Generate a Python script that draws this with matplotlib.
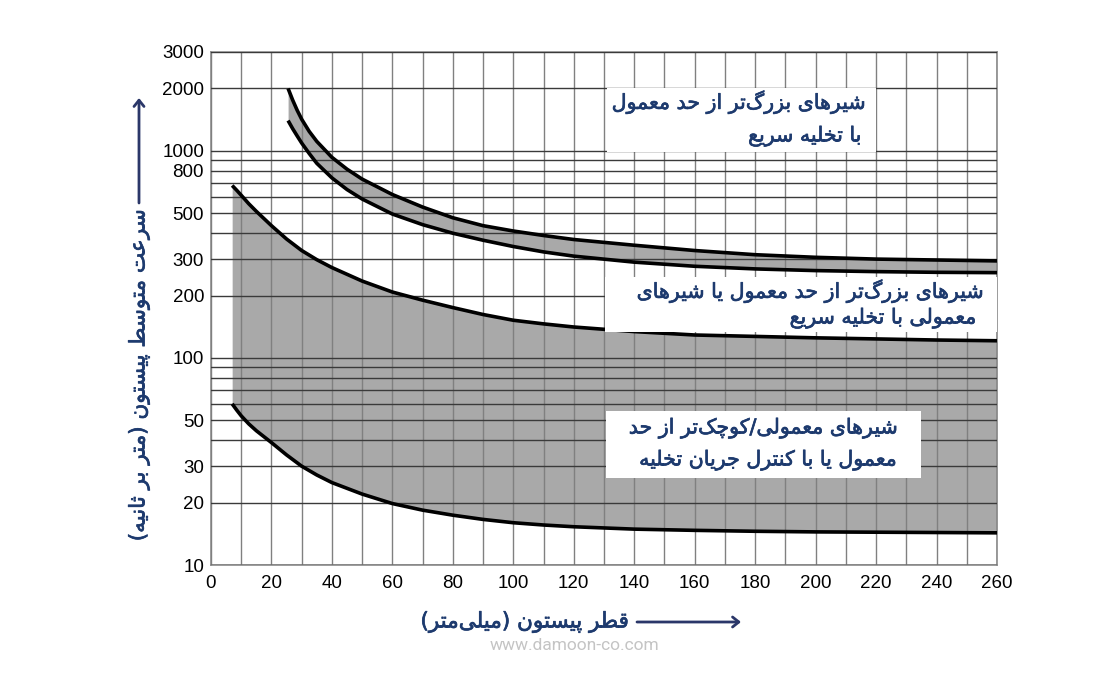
import matplotlib
matplotlib.use('Agg')
import matplotlib.pyplot as plt
import matplotlib.patheffects as pe
from matplotlib.patches import Rectangle, FancyArrowPatch
from matplotlib.ticker import FixedLocator, NullFormatter

# lower (wide) band: normal / smaller valves
x_small = [7, 8.5, 10, 12.5, 15, 20, 25, 30, 35, 40, 50, 60, 70, 80, 90, 100, 110, 120,
           140, 160, 180, 200, 220, 240, 260]
v_small_min = [60, 56, 52.5, 48, 44.5, 39, 34, 30, 27.2, 25, 22, 19.8, 18.4, 17.4, 16.6, 16.0,
               15.6, 15.3, 14.9, 14.7, 14.55, 14.45, 14.4, 14.35, 14.3]
v_small_max = [680, 645, 610, 555, 510, 435, 375, 330, 298, 273, 235, 208, 190, 175, 162, 152,
               146, 141, 134, 129, 127, 125, 123.5, 122, 121]

# upper (narrow) band: oversized valves with quick exhaust
x_large = [25.5, 27, 28.5, 30, 32.5, 35, 40, 45, 50, 60, 70, 80, 90, 100, 110, 120,
           140, 160, 180, 200, 220, 240, 260]
v_large_min = [1400, 1280, 1180, 1090, 970, 870, 740, 650, 585, 495, 440, 400, 370, 345, 325, 310,
               290, 277, 269, 264, 261, 259, 258]
v_large_max = [2000, 1760, 1570, 1420, 1240, 1110, 930, 815, 730, 615, 535, 475, 435, 410, 390, 373,
               350, 330, 315, 306, 300, 297, 294]

y_ticks = [10, 20, 30, 50, 100, 200, 300, 500, 800, 1000, 2000, 3000]
y_grid = [40, 60, 70, 80, 90, 400, 600, 700, 900]
x_ticks = list(range(0, 261, 20))

label_top = ['شیرهای بزرگ\u200cتر از حد معمول', 'با تخلیه سریع']
label_mid = ['شیرهای بزرگ\u200cتر از حد معمول یا شیرهای', 'معمولی با تخلیه سریع']
label_low = ['شیرهای معمولی/کوچک\u200cتر از حد', 'معمول یا با کنترل جریان تخلیه']
ylabel = 'سرعت متوسط پیستون (متر بر ثانیه)'
xlabel = 'قطر پیستون (میلی\u200cمتر)'
watermark = 'www.damoon-co.com'

# matplotlib has no arabic shaping, so pick presentation forms by hand
FORMS = {
    'ا': ('\uFE8D', '\uFE8E', None, None),
    'ب': ('\uFE8F', '\uFE90', '\uFE91', '\uFE92'),
    'پ': ('\uFB56', '\uFB57', '\uFB58', '\uFB59'),
    'ت': ('\uFE95', '\uFE96', '\uFE97', '\uFE98'),
    'ث': ('\uFE99', '\uFE9A', '\uFE9B', '\uFE9C'),
    'ج': ('\uFE9D', '\uFE9E', '\uFE9F', '\uFEA0'),
    'چ': ('\uFB7A', '\uFB7B', '\uFB7C', '\uFB7D'),
    'ح': ('\uFEA1', '\uFEA2', '\uFEA3', '\uFEA4'),
    'خ': ('\uFEA5', '\uFEA6', '\uFEA7', '\uFEA8'),
    'د': ('\uFEA9', '\uFEAA', None, None),
    'ذ': ('\uFEAB', '\uFEAC', None, None),
    'ر': ('\uFEAD', '\uFEAE', None, None),
    'ز': ('\uFEAF', '\uFEB0', None, None),
    'ژ': ('\uFB8A', '\uFB8B', None, None),
    'س': ('\uFEB1', '\uFEB2', '\uFEB3', '\uFEB4'),
    'ش': ('\uFEB5', '\uFEB6', '\uFEB7', '\uFEB8'),
    'ط': ('\uFEC1', '\uFEC2', '\uFEC3', '\uFEC4'),
    'ع': ('\uFEC9', '\uFECA', '\uFECB', '\uFECC'),
    'ف': ('\uFED1', '\uFED2', '\uFED3', '\uFED4'),
    'ق': ('\uFED5', '\uFED6', '\uFED7', '\uFED8'),
    'ک': ('\uFB8E', '\uFB8F', '\uFB90', '\uFB91'),
    'گ': ('\uFB92', '\uFB93', '\uFB94', '\uFB95'),
    'ل': ('\uFEDD', '\uFEDE', '\uFEDF', '\uFEE0'),
    'م': ('\uFEE1', '\uFEE2', '\uFEE3', '\uFEE4'),
    'ن': ('\uFEE5', '\uFEE6', '\uFEE7', '\uFEE8'),
    'و': ('\uFEED', '\uFEEE', None, None),
    'ه': ('\uFEE9', '\uFEEA', '\uFEEB', '\uFEEC'),
    'ی': ('\uFBFC', '\uFBFD', '\uFBFE', '\uFBFF'),
}
MIRROR = {'(': ')', ')': '('}


def fa(text):
    out = []
    n = len(text)
    for i, c in enumerate(text):
        if c not in FORMS:
            if c != '\u200c':
                out.append(MIRROR.get(c, c))
            continue
        iso, fin, ini, med = FORMS[c]
        prev_joins = i > 0 and text[i - 1] in FORMS and FORMS[text[i - 1]][2] is not None
        next_joins = i < n - 1 and text[i + 1] in FORMS and ini is not None
        if prev_joins and next_joins:
            out.append(med)
        elif prev_joins:
            out.append(fin)
        elif next_joins:
            out.append(ini)
        else:
            out.append(iso)
    return ''.join(out[::-1])


navy = '#1d3a6e'
arrow_col = '#2b3769'
fa_font = 'DejaVu Sans'
# a thin stroke in the text colour makes DejaVu look closer to the medium weight
heavier = [pe.withStroke(linewidth=0.5, foreground=navy)]

fig = plt.figure(figsize=(11.11, 6.94), dpi=100)
ax = fig.add_axes([211 / 1111, 1 - 565 / 694, 786 / 1111, 513 / 694])

ax.fill_between(x_small, v_small_min, v_small_max, color='#a9a9a9', lw=0, zorder=1)
ax.fill_between(x_large, v_large_min, v_large_max, color='#a9a9a9', lw=0, zorder=1)
for xs, ys in [(x_small, v_small_min), (x_small, v_small_max),
               (x_large, v_large_min), (x_large, v_large_max)]:
    ax.plot(xs, ys, color='black', lw=2.6, zorder=3, solid_capstyle='butt',
            solid_joinstyle='round')

ax.set_yscale('log')
ax.set_xlim(0, 260)
ax.set_ylim(10, 3000)
ax.yaxis.set_major_locator(FixedLocator(y_ticks))
ax.yaxis.set_minor_locator(FixedLocator(y_grid))
ax.yaxis.set_minor_formatter(NullFormatter())
ax.set_yticklabels([str(v) for v in y_ticks])
ax.set_xticks(x_ticks)
ax.xaxis.set_minor_locator(FixedLocator(list(range(10, 260, 20))))

ax.set_axisbelow(False)
ax.grid(which='both', axis='y', color='#3a3a3a', lw=1.0)
ax.grid(which='both', axis='x', color='#808080', lw=1.0)
ax.tick_params(which='both', length=0, labelsize=13.5)
ax.tick_params(axis='y', pad=5)
ax.tick_params(axis='x', pad=7)
for lab in ax.get_xticklabels() + ax.get_yticklabels():
    lab.set_fontfamily('Liberation Sans')
for s in ax.spines.values():
    s.set_color('#8a8a8a')
    s.set_linewidth(1.2)


def px(x, y):
    return (x - 211) / 786, (565 - y) / 513


def box(x0, y0, x1, y1):
    a0 = px(x0, y1)
    a1 = px(x1, y0)
    ax.add_patch(Rectangle(a0, a1[0] - a0[0], a1[1] - a0[1], transform=ax.transAxes,
                           facecolor='white', edgecolor='none', zorder=4, clip_on=False))


def line(txt, xr, y, size=14.8):
    ax.text(*px(xr, y), fa(txt), transform=ax.transAxes, ha='right', va='center',
            fontsize=size, color=navy, family=fa_font, zorder=5, path_effects=heavier)


box(607, 88, 876, 152)
line(label_top[0], 866, 102)
line(label_top[1], 862, 136)

box(605, 277, 997, 332)
line(label_mid[0], 984, 291)
line(label_mid[1], 977, 318)

box(606, 411, 921, 478)
line(label_low[0], 898, 428)
line(label_low[1], 898, 460)

fig.text(139 / 1111, 1 - 376 / 694, fa(ylabel), rotation=90, ha='center', va='center',
         fontsize=15.5, color=navy, family=fa_font, path_effects=heavier)
fig.text(524 / 1111, 1 - 622 / 694, fa(xlabel), ha='center', va='center',
         fontsize=15.5, color=navy, family=fa_font, path_effects=heavier)
fig.text(574 / 1111, 1 - 645 / 694, watermark, ha='center', va='center',
         fontsize=12.5, color='#c4c4c4', family='Roboto')


def arrow(p0, p1):
    fig.add_artist(FancyArrowPatch((p0[0] / 1111, 1 - p0[1] / 694), (p1[0] / 1111, 1 - p1[1] / 694),
                                   transform=fig.transFigure,
                                   arrowstyle='->,head_length=0.45,head_width=0.36',
                                   mutation_scale=10, lw=2, color=arrow_col,
                                   shrinkA=0, shrinkB=0))


arrow((139, 203), (139, 98))
arrow((637, 622), (741, 622))

fig.savefig('out.png', dpi=100)
